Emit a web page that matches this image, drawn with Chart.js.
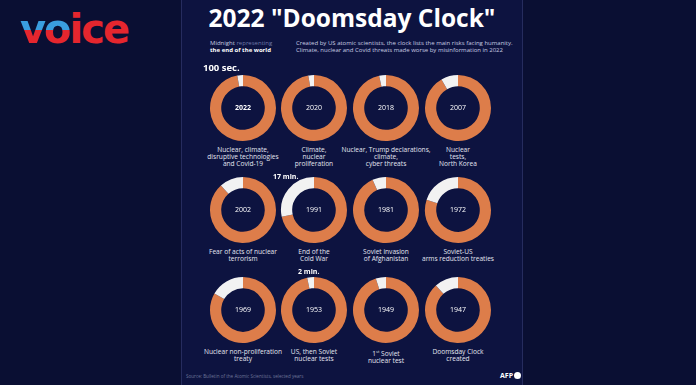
<!DOCTYPE html>
<html>
<head>
<meta charset="utf-8">
<script src="https://cdn.jsdelivr.net/npm/chart.js@4.4.1/dist/chart.umd.min.js"></script>
<style>
  html, body { margin: 0; padding: 0; }
  body { width: 696px; height: 385px; background: #0a0f33; position: relative; overflow: hidden; font-family: "Open Sans", sans-serif; }
  #panel { position: absolute; left: 181px; top: 0; width: 340px; height: 385px; background: #0d1340; border-left: 1px solid #262c5e; border-right: 1px solid #262c5e; }
  #logo { position: absolute; left: 20px; top: 4px; font-family: "DejaVu Sans", sans-serif; font-weight: bold; font-size: 40px; letter-spacing: -2px; line-height: 50px; }
  #logo .vo { background: linear-gradient(to bottom, #3a9ee0 0%, #3a9ee0 52%, #e5262e 52%, #e5262e 100%); -webkit-background-clip: text; background-clip: text; color: transparent; }
  #logo .ice { color: #e5262e; }
  #title { position: absolute; left: 181px; width: 342px; top: 1px; text-align: center; color: #fff; font-weight: bold; font-size: 24.5px; }
  .sub { position: absolute; font-size: 6px; line-height: 7px; color: #c8cbe0; }
  .sub b { color: #fff; }
  .sub span.dim { color: #6f7aa8; }
  .donut { position: absolute; width: 70px; height: 70px; }
  .lbl { position: absolute; width: 90px; text-align: center; color: #e4e6f0; font-size: 6.6px; line-height: 7px; }
  .mark { position: absolute; color: #fff; font-weight: bold; }
  #source { position: absolute; left: 186px; top: 373px; font-size: 4.6px; color: #6d7599; }
  #afp { position: absolute; left: 500px; top: 371px; font-size: 7px; font-weight: bold; color: #fff; }
  #afp i { display: inline-block; width: 7px; height: 7px; border-radius: 50%; background: #fff; vertical-align: -1px; margin-left: 1px; }
</style>
</head>
<body>
<div id="panel"></div>
<div id="logo"><span class="vo">vo</span><span class="ice">ice</span></div>
<div id="title">2022 "Doomsday Clock"</div>
<div class="sub" style="left:210px; top:40px;">Midnight <span class="dim">representing</span><br><b>the end of the world</b></div>
<div class="sub" style="left:296px; top:40px;">Created by US atomic scientists, the clock lists the main risks facing humanity.<br>Climate, nuclear and Covid threats made worse by misinformation in 2022</div>
<div id="source">Source: Bulletin of the Atomic Scientists, selected years</div>
<div id="afp">AFP<i></i></div>
<script>
// minutes to midnight on a one-hour clock face
const years = ['2022', '2020', '2018', '2007', '2002', '1991', '1981', '1972', '1969', '1953', '1949', '1947'];
const minutesToMidnight = [1.67, 1.67, 2, 5, 7, 17, 4, 12, 10, 2, 3, 7];
const reasons = [
  'Nuclear, climate,<br>disruptive technologies<br>and Covid-19',
  'Climate,<br>nuclear<br>proliferation',
  'Nuclear, Trump declarations,<br>climate,<br>cyber threats',
  'Nuclear<br>tests,<br>North Korea',
  'Fear of acts of nuclear<br>terrorism',
  'End of the<br>Cold War',
  'Soviet invasion<br>of Afghanistan',
  'Soviet-US<br>arms reduction treaties',
  'Nuclear non-proliferation<br>treaty',
  'US, then Soviet<br>nuclear tests',
  '1<sup style="font-size:4px">st</sup> Soviet<br>nuclear test',
  'Doomsday Clock<br>created'
];
const callouts = [
  { idx: 0, text: '100 sec.' },
  { idx: 5, text: '17 min.' },
  { idx: 9, text: '2 min.' }
];

const colX = [243, 314, 386, 458];
const rowY = [108, 210, 310];

const centerText = {
  id: 'centerText',
  afterDraw(chart, args, opts) {
    const { ctx, chartArea } = chart;
    const cx = (chartArea.left + chartArea.right) / 2;
    const cy = (chartArea.top + chartArea.bottom) / 2;
    ctx.save();
    ctx.fillStyle = '#ffffff';
    ctx.font = (opts.bold ? 'bold ' : '') + '7px "Open Sans"';
    ctx.textAlign = 'center';
    ctx.textBaseline = 'middle';
    ctx.fillText(opts.text, cx, cy);
    ctx.restore();
  }
};

years.forEach((year, i) => {
  const x = colX[i % 4];
  const y = rowY[Math.floor(i / 4)];
  const c = document.createElement('canvas');
  c.className = 'donut';
  c.width = 70; c.height = 70;
  c.style.left = (x - 35) + 'px';
  c.style.top = (y - 35) + 'px';
  document.body.appendChild(c);

  const m = minutesToMidnight[i];
  new Chart(c, {
    type: 'doughnut',
    data: {
      labels: ['Before midnight', 'Minutes to midnight'],
      datasets: [{
        data: [60 - m, m],
        backgroundColor: ['#dd7d4a', '#f2f2f2'],
        borderWidth: 0
      }]
    },
    options: {
      responsive: false,
      animation: false,
      cutout: '66%',
      layout: { padding: 2 },
      plugins: {
        legend: { display: false },
        tooltip: { enabled: false },
        centerText: { text: year, bold: i === 0 }
      }
    },
    plugins: [centerText]
  });

  const l = document.createElement('div');
  l.className = 'lbl';
  l.innerHTML = reasons[i];
  l.style.left = (x - 45) + 'px';
  l.style.top = (y + 38) + 'px';
  document.body.appendChild(l);
});

callouts.forEach(co => {
  const x = colX[co.idx % 4];
  const y = rowY[Math.floor(co.idx / 4)];
  const d = document.createElement('div');
  d.className = 'mark';
  d.textContent = co.text;
  if (co.idx === 0) {
    d.style.fontSize = '9.5px';
    d.style.left = (x - 40) + 'px';
    d.style.top = (y - 47) + 'px';
  } else if (co.idx === 5) {
    d.style.fontSize = '7px';
    d.style.left = (x - 41) + 'px';
    d.style.top = (y - 38) + 'px';
  } else {
    d.style.fontSize = '7px';
    d.style.left = (x - 16) + 'px';
    d.style.top = (y - 43) + 'px';
  }
  document.body.appendChild(d);
});
</script>
</body>
</html>
